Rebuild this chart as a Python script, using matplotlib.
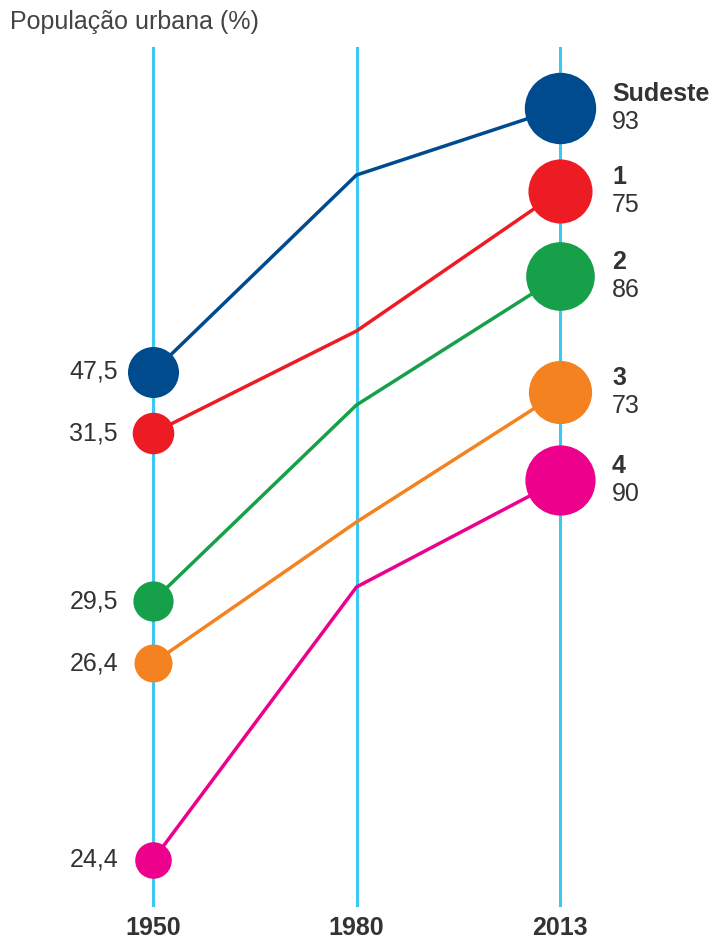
import numpy as np
import matplotlib
matplotlib.use("Agg")
import matplotlib.pyplot as plt

plt.rcParams['font.family'] = ['Liberation Sans', 'DejaVu Sans']

years = ["1950", "1980", "2013"]
names = ["Sudeste", "1", "2", "3", "4"]
colors = ["#004b8d", "#ed1c24", "#16a049", "#f58220", "#ec008c"]

# urban population (%) written on the chart
pop_1950 = [47.5, 31.5, 29.5, 26.4, 24.4]
pop_2013 = [93, 75, 86, 73, 90]

# vertical placement of each line (pixels from top)
pos_1950 = [372, 433, 601, 663, 860]
pos_1980 = [175, 331, 405, 522, 587]
pos_2013 = [108, 191, 276, 392, 480]

W, H, DPI = 712, 939, 100
fig = plt.figure(figsize=(W / DPI, H / DPI), dpi=DPI)
ax = fig.add_axes([0, 0, 1, 1])
step = 203.5
ax.set_xlim(-153 / step, (W - 153) / step)
ax.set_ylim(H, 0)
ax.axis("off")

x = np.arange(len(years))
txt = "#333333"
fs = 18

for i in x:
    ax.plot([i, i], [48, 905], color="#3cc8f0", lw=2.2, zorder=1)
    ax.text(i, 928, years[i], ha="center", va="center", fontsize=fs,
            fontweight="bold", color=txt)


def msize(v):
    r = 3.7 * np.sqrt(v)  # radius in px, area follows the value
    return (2 * r * 72 / DPI) ** 2


for k in range(len(names)):
    ys = [pos_1950[k], pos_1980[k], pos_2013[k]]
    ax.plot(x, ys, color=colors[k], lw=2.5, zorder=2, solid_capstyle="round")
    ax.scatter([0], [pos_1950[k]], s=msize(pop_1950[k]), color=colors[k],
               zorder=3, linewidths=0)
    ax.scatter([2], [pos_2013[k]], s=msize(pop_2013[k]), color=colors[k],
               zorder=3, linewidths=0)
    ax.text((118 - 153) / step, pos_1950[k],
            ("%.1f" % pop_1950[k]).replace(".", ","),
            ha="right", va="center", fontsize=fs, color=txt)
    xr = (612 - 153) / step
    ax.text(xr, pos_2013[k] - 14, names[k], ha="left", va="center",
            fontsize=fs, fontweight="bold", color=txt)
    ax.text(xr, pos_2013[k] + 14, str(pop_2013[k]), ha="left", va="center",
            fontsize=fs, color=txt)

ax.text((10 - 153) / step, 22, "População urbana (%)", ha="left",
        va="center", fontsize=fs, color="#444444")

fig.savefig("out.png", dpi=DPI)
